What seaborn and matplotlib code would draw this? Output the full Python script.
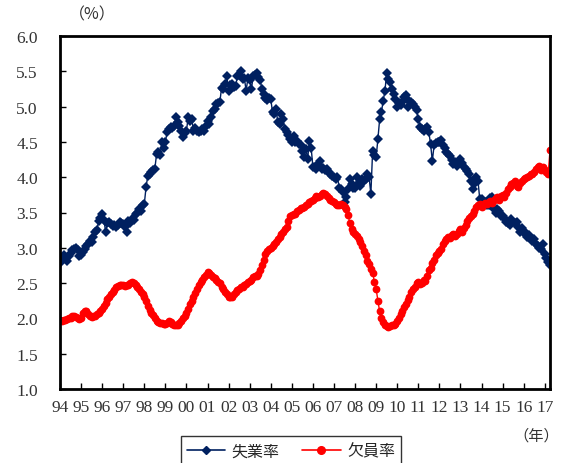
import matplotlib
matplotlib.use("Agg")
import matplotlib.pyplot as plt
import seaborn as sns
import pandas as pd
import numpy as np

# Monthly series, Jan 1994 - Apr 2017 (%)
unemployment = [
    2.78, 2.85, 2.90, 2.85, 2.82, 2.88, 2.92, 2.97, 2.98, 3.00, 2.97, 2.88,  # 1994
    2.90, 2.94, 2.98, 3.03, 3.05, 3.10, 3.08, 3.15, 3.22, 3.25, 3.38, 3.42,  # 1995
    3.48, 3.40, 3.22, 3.35, 3.36, 3.34, 3.31, 3.33, 3.29, 3.32, 3.36, 3.35,  # 1996
    3.34, 3.30, 3.22, 3.38, 3.35, 3.41, 3.40, 3.48, 3.50, 3.55, 3.52, 3.60,  # 1997
    3.62, 3.86, 4.02, 4.04, 4.07, 4.10, 4.12, 4.33, 4.35, 4.31, 4.50, 4.42,  # 1998
    4.50, 4.64, 4.68, 4.71, 4.70, 4.72, 4.85, 4.78, 4.73, 4.66, 4.57, 4.62,  # 1999
    4.66, 4.85, 4.80, 4.83, 4.66, 4.70, 4.65, 4.64, 4.66, 4.68, 4.66, 4.72,  # 2000
    4.80, 4.76, 4.85, 4.94, 4.96, 5.04, 5.05, 5.06, 5.27, 5.25, 5.32, 5.43,  # 2001
    5.22, 5.30, 5.32, 5.28, 5.29, 5.43, 5.45, 5.50, 5.39, 5.40, 5.22, 5.41,  # 2002
    5.38, 5.25, 5.43, 5.45, 5.47, 5.42, 5.37, 5.25, 5.18, 5.12, 5.10, 5.12,  # 2003
    5.11, 4.92, 4.90, 4.97, 4.78, 4.75, 4.90, 4.82, 4.68, 4.64, 4.60, 4.54,  # 2004
    4.50, 4.58, 4.50, 4.51, 4.47, 4.45, 4.37, 4.28, 4.40, 4.26, 4.51, 4.42,  # 2005
    4.14, 4.15, 4.12, 4.18, 4.23, 4.12, 4.13, 4.10, 4.12, 4.08, 4.05, 4.02,  # 2006
    4.00, 3.98, 4.00, 3.85, 3.83, 3.79, 3.65, 3.72, 3.83, 3.97, 3.90, 3.85,  # 2007
    3.85, 4.00, 3.92, 3.88, 3.97, 3.95, 3.97, 4.05, 4.00, 3.76, 4.37, 4.32,  # 2008
    4.28, 4.54, 4.82, 4.92, 5.08, 5.22, 5.47, 5.39, 5.35, 5.25, 5.18, 5.11,  # 2009
    5.00, 5.05, 5.02, 5.06, 5.13, 5.16, 5.00, 5.08, 5.06, 5.04, 4.99, 4.95,  # 2010
    4.82, 4.71, 4.68, 4.66, 4.68, 4.71, 4.64, 4.47, 4.23, 4.45, 4.48, 4.50,  # 2011
    4.50, 4.52, 4.45, 4.42, 4.35, 4.33, 4.30, 4.25, 4.19, 4.22, 4.16, 4.20,  # 2012
    4.26, 4.20, 4.14, 4.12, 4.09, 4.05, 3.95, 3.83, 3.90, 4.00, 3.95, 3.69,  # 2013
    3.69, 3.62, 3.65, 3.60, 3.60, 3.70, 3.72, 3.55, 3.50, 3.55, 3.52, 3.45,  # 2014
    3.45, 3.42, 3.37, 3.35, 3.33, 3.41, 3.37, 3.35, 3.37, 3.30, 3.22, 3.28,  # 2015
    3.24, 3.20, 3.15, 3.18, 3.12, 3.10, 3.12, 3.05, 3.03, 3.00, 2.98, 3.05,  # 2016
    2.91, 2.85, 2.80, 2.75,                                                  # 2017
]

vacancy = [
    1.98, 1.97, 1.98, 1.98, 1.99, 2.00, 2.01, 2.04, 2.03, 2.02, 2.00, 1.99,  # 1994
    2.00, 2.08, 2.10, 2.10, 2.06, 2.03, 2.02, 2.03, 2.04, 2.06, 2.08, 2.10,  # 1995
    2.13, 2.18, 2.22, 2.27, 2.31, 2.35, 2.38, 2.40, 2.44, 2.46, 2.47, 2.47,  # 1996
    2.47, 2.46, 2.47, 2.48, 2.50, 2.51, 2.50, 2.47, 2.44, 2.41, 2.38, 2.35,  # 1997
    2.30, 2.24, 2.18, 2.12, 2.08, 2.05, 2.00, 1.97, 1.95, 1.94, 1.93, 1.92,  # 1998
    1.92, 1.93, 1.96, 1.95, 1.92, 1.91, 1.90, 1.91, 1.93, 1.96, 2.00, 2.03,  # 1999
    2.07, 2.13, 2.20, 2.25, 2.30, 2.36, 2.42, 2.48, 2.51, 2.55, 2.58, 2.62,  # 2000
    2.66, 2.64, 2.61, 2.58, 2.57, 2.55, 2.52, 2.50, 2.45, 2.42, 2.37, 2.34,  # 2001
    2.31, 2.30, 2.31, 2.34, 2.37, 2.40, 2.42, 2.44, 2.45, 2.47, 2.49, 2.51,  # 2002
    2.53, 2.55, 2.58, 2.60, 2.60, 2.63, 2.68, 2.75, 2.83, 2.91, 2.95, 2.98,  # 2003
    3.00, 3.03, 3.05, 3.08, 3.12, 3.15, 3.20, 3.22, 3.27, 3.30, 3.38, 3.45,  # 2004
    3.47, 3.48, 3.48, 3.52, 3.54, 3.56, 3.57, 3.58, 3.60, 3.62, 3.65, 3.66,  # 2005
    3.68, 3.70, 3.73, 3.72, 3.74, 3.76, 3.78, 3.76, 3.73, 3.70, 3.68, 3.66,  # 2006
    3.65, 3.62, 3.60, 3.61, 3.62, 3.60, 3.58, 3.55, 3.47, 3.35, 3.27, 3.23,  # 2007
    3.20, 3.17, 3.12, 3.08, 3.03, 2.95, 2.90, 2.82, 2.77, 2.70, 2.65, 2.52,  # 2008
    2.42, 2.25, 2.10, 2.00, 1.95, 1.91, 1.89, 1.88, 1.89, 1.90, 1.90, 1.92,  # 2009
    1.96, 2.00, 2.06, 2.10, 2.16, 2.20, 2.26, 2.30, 2.37, 2.42, 2.45, 2.50,  # 2010
    2.52, 2.49, 2.50, 2.55, 2.53, 2.60, 2.68, 2.72, 2.78, 2.83, 2.90, 2.93,  # 2011
    2.95, 2.98, 3.05, 3.10, 3.12, 3.15, 3.14, 3.18, 3.20, 3.17, 3.20, 3.24,  # 2012
    3.27, 3.22, 3.28, 3.33, 3.38, 3.42, 3.45, 3.48, 3.52, 3.58, 3.60, 3.62,  # 2013
    3.58, 3.60, 3.63, 3.62, 3.65, 3.66, 3.64, 3.68, 3.70, 3.72, 3.68, 3.73,  # 2014
    3.75, 3.72, 3.78, 3.83, 3.86, 3.90, 3.92, 3.95, 3.88, 3.86, 3.92, 3.95,  # 2015
    3.97, 3.99, 4.00, 4.02, 4.04, 4.05, 4.08, 4.12, 4.15, 4.16, 4.10, 4.14,  # 2016
    4.10, 4.07, 4.05, 4.38,                                                  # 2017
]

year_labels = ["94", "95", "96", "97", "98", "99", "00", "01", "02", "03", "04",
               "05", "06", "07", "08", "09", "10", "11", "12", "13", "14", "15",
               "16", "17"]

series_names = ["失業率", "欠員率"]
y_ticks = [1.0, 1.5, 2.0, 2.5, 3.0, 3.5, 4.0, 4.5, 5.0, 5.5, 6.0]

months = np.arange(len(unemployment))
df = pd.DataFrame({
    "month": np.concatenate([months, months]),
    "rate": unemployment + vacancy,
    "series": [series_names[0]] * len(unemployment) + [series_names[1]] * len(vacancy),
})

sns.set_theme(style="white")
plt.rcParams["font.family"] = ["Liberation Serif", "Noto Sans CJK JP"]

fig = plt.figure(figsize=(5.62, 4.64), dpi=100)
ax = fig.add_axes([60 / 562, 1 - 390 / 464, 490 / 562, 353 / 464])

palette = {series_names[0]: "#002060", series_names[1]: "#ff0000"}
markers = {series_names[0]: "D", series_names[1]: "o"}

sns.lineplot(data=df, x="month", y="rate", hue="series", style="series",
             palette=palette, markers=markers, dashes=False, linewidth=1.0,
             markersize=5, markeredgewidth=0, ax=ax, legend=False)

# Circles a touch bigger than the diamonds
for line in ax.lines:
    if line.get_marker() == "o":
        line.set_markersize(5.6)
    else:
        line.set_markersize(5.2)

ax.set_xlim(0, len(unemployment) - 1)
ax.set_ylim(1.0, 6.0)
ax.set_xticks(np.arange(len(year_labels)) * 12)
ax.set_xticklabels(year_labels)
ax.set_yticks(y_ticks)
ax.set_yticklabels([f"{v:.1f}" for v in y_ticks])
ax.set_xlabel("")
ax.set_ylabel("")

for s in ax.spines.values():
    s.set_color("black")
    s.set_linewidth(2.0)

ax.tick_params(axis="x", direction="in", length=4, width=1, colors="black",
               labelsize=12.5, pad=7, bottom=True)
ax.tick_params(axis="y", direction="in", length=4, width=1, colors="black",
               labelsize=12.5, pad=16, left=True)
for lab in ax.get_xticklabels() + ax.get_yticklabels():
    lab.set_color("#333333")

fig.text(92 / 562, 1 - 15 / 464, "（%）", ha="center", va="center",
         fontsize=11.5, color="#333333", family=["Noto Sans CJK JP"])
fig.text(559 / 562, 1 - 436 / 464, "（年）", ha="right", va="center",
         fontsize=11, color="#333333", family=["Noto Sans CJK JP"])

handles = [
    plt.Line2D([], [], color=palette[series_names[0]], marker="D", markersize=4.5,
               linewidth=1.2),
    plt.Line2D([], [], color=palette[series_names[1]], marker="o", markersize=5.5,
               linewidth=1.2),
]
leg = fig.legend(handles, series_names, loc="upper center", ncol=2,
                 bbox_to_anchor=(291 / 562, 1 - 437 / 464), borderaxespad=0,
                 frameon=True, fancybox=False, edgecolor="black",
                 handlelength=2.4, columnspacing=1.4, handletextpad=0.4,
                 borderpad=0.4, prop={"family": ["Noto Sans CJK JP"], "size": 11.5})
leg.get_frame().set_linewidth(1.0)

fig.savefig("out.png", dpi=100)
